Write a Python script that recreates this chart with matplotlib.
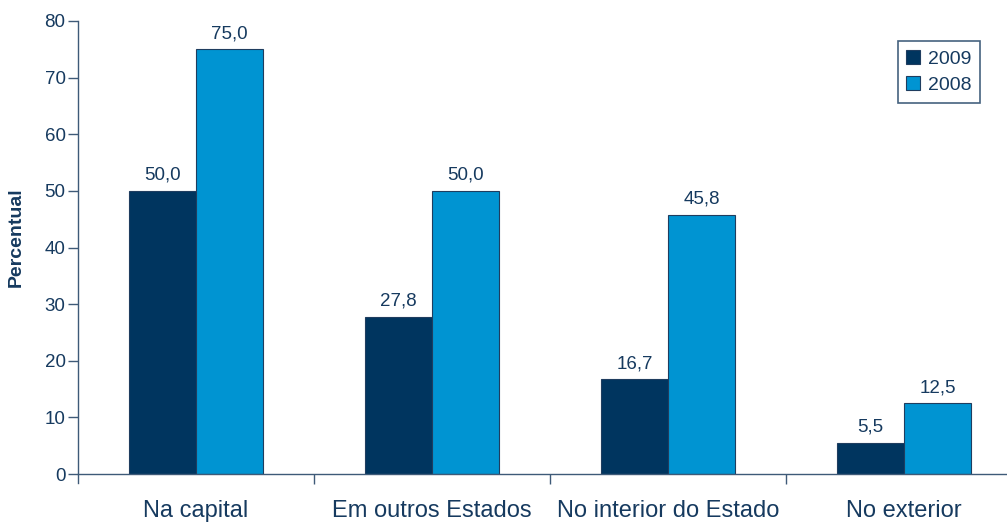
import matplotlib.pyplot as plt
import numpy as np

plt.rcParams['font.family'] = ['Liberation Sans', 'DejaVu Sans']

# data
categories = ['Na capital', 'Em outros Estados', 'No interior do Estado', 'No exterior']
values_2009 = [50.0, 27.8, 16.7, 5.5]
values_2008 = [75.0, 50.0, 45.8, 12.5]
labels_2009 = ['50,0', '27,8', '16,7', '5,5']
labels_2008 = ['75,0', '50,0', '45,8', '12,5']

dark = '#00355f'
light = '#0094d2'
text_col = '#163a5f'
axis_col = '#3e5a78'

fig = plt.figure(figsize=(10.07, 5.25), dpi=100)
ax = fig.add_axes([0.0775, 0.097, 0.9374, 0.863])

x = np.arange(len(categories))
w = 0.285
b1 = ax.bar(x - w / 2, values_2009, w, color=dark, edgecolor='#1f3d5f', linewidth=0.8, label='2009')
b2 = ax.bar(x + w / 2, values_2008, w, color=light, edgecolor='#1f3d5f', linewidth=0.8, label='2008')

# value labels above bars
for bar, lab in zip(b1, labels_2009):
    ax.annotate(lab, xy=(bar.get_x() + bar.get_width() / 2, bar.get_height()),
                xytext=(0, 5), textcoords='offset points', ha='center', va='bottom',
                fontsize=13.5, color=text_col)
for bar, lab in zip(b2, labels_2008):
    ax.annotate(lab, xy=(bar.get_x() + bar.get_width() / 2, bar.get_height()),
                xytext=(0, 5), textcoords='offset points', ha='center', va='bottom',
                fontsize=13.5, color=text_col)

ax.set_xlim(-0.5, len(categories) - 0.5)
ax.set_ylim(0, 80)
ax.set_yticks(range(0, 81, 10))
ax.tick_params(axis='y', labelsize=13.5, colors=text_col, length=7, width=1, color=axis_col, pad=2)

# category labels between separator ticks
ax.set_xticks(x)
ax.set_xticklabels(categories, fontsize=17, color=text_col)
ax.tick_params(axis='x', length=0, pad=19)
ax.set_xticks(np.arange(0.5, len(categories) - 0.5, 1), minor=True)
ax.tick_params(axis='x', which='minor', length=7, width=1, color=axis_col, direction='out')

for s in ['top', 'right']:
    ax.spines[s].set_visible(False)
for s in ['left', 'bottom']:
    ax.spines[s].set_color(axis_col)
    ax.spines[s].set_linewidth(1)
ax.spines['left'].set_bounds(-1.5, 80)

ax.set_ylabel('Percentual', fontsize=14, fontweight='bold', color=text_col)
ax.yaxis.set_label_coords(-0.056, 0.522)

leg = ax.legend(loc='upper right', bbox_to_anchor=(0.9555, 0.955), fontsize=14, frameon=True,
                fancybox=False, edgecolor=text_col, handlelength=0.7, handleheight=0.7,
                handletextpad=0.4, borderpad=0.45, labelspacing=0.45, borderaxespad=0)
leg.get_frame().set_linewidth(1.2)
for t in leg.get_texts():
    t.set_color(text_col)

fig.savefig('out.png', dpi=100)
